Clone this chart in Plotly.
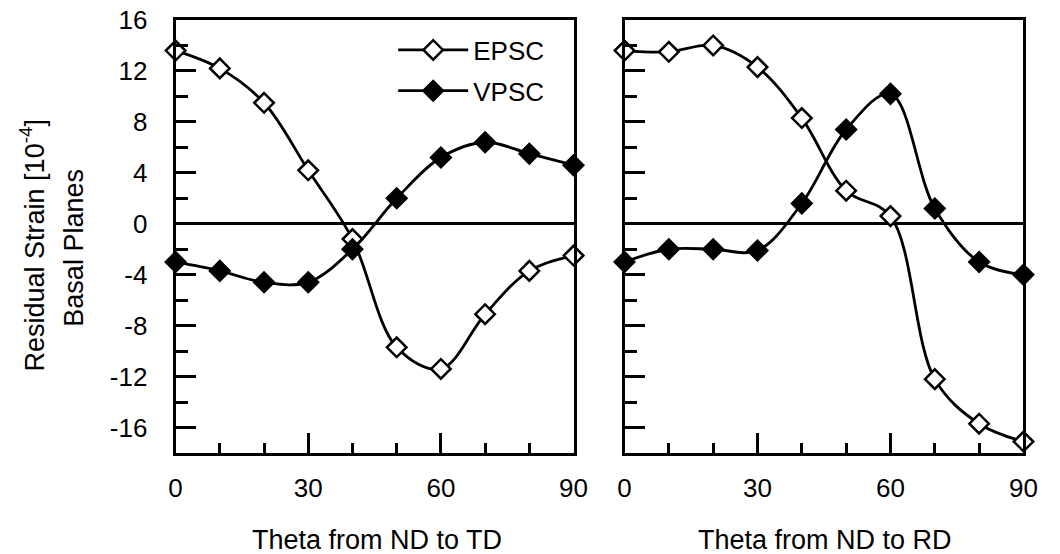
import plotly.graph_objects as go

theta = [0, 10, 20, 30, 40, 50, 60, 70, 80, 90]
epsc_td = [13.6, 12.2, 9.5, 4.2, -1.2, -9.7, -11.4, -7.1, -3.7, -2.5]
vpsc_td = [-3.0, -3.7, -4.6, -4.6, -2.0, 2.0, 5.2, 6.4, 5.5, 4.6]
epsc_rd = [13.6, 13.5, 14.0, 12.3, 8.3, 2.6, 0.6, -12.2, -15.7, -17.1]
vpsc_rd = [-3.0, -2.0, -2.0, -2.1, 1.6, 7.4, 10.2, 1.2, -3.0, -4.0]
ytick_vals = [-16, -12, -8, -4, 0, 4, 8, 12, 16]
ytick_text = ["-16", "-12", "-8", "-4", "0", "4", "8", "12", "16"]
xtick_vals = [0, 30, 60, 90]
xtick_text = ["0", "30", "60", "90"]
xtitles = ["Theta from ND to TD", "Theta from ND to RD"]
ytitle_lines = ["Residual Strain [10<sup>-4</sup>]", "Basal Planes"]

FONT = "Liberation Sans, Arial, sans-serif"
W, H = 1060, 554
top, bottom = 20, 453
FS = 26

fig = go.Figure()

def add(x, y, name, filled, xa, ya, show):
    fig.add_trace(go.Scatter(
        x=x, y=y, name=name, mode="lines+markers",
        line=dict(color="black", width=2.8, shape="spline", smoothing=1.0),
        marker=dict(symbol="diamond", size=15,
                    color="black" if filled else "white",
                    line=dict(color="black", width=2.5)),
        xaxis=xa, yaxis=ya, showlegend=show, cliponaxis=False,
        legendgroup=name))

add(theta, epsc_td, "EPSC", False, "x", "y", True)
add(theta, vpsc_td, "VPSC", True, "x", "y", True)
add(theta, epsc_rd, "EPSC", False, "x2", "y2", False)
add(theta, vpsc_rd, "VPSC", True, "x2", "y2", False)

common_x = dict(range=[0, 90], showline=True, linecolor="black", linewidth=3,
                mirror=True, ticks="inside", ticklen=20, tickwidth=3, tickcolor="black",
                tickvals=xtick_vals, ticktext=xtick_text, showgrid=False, zeroline=False,
                tickfont=dict(family=FONT, size=FS, color="black"),
                ticklabelstandoff=10,
                minor=dict(dtick=10, tick0=0, ticks="inside", ticklen=10, tickwidth=3,
                           tickcolor="black", showgrid=False))
common_y = dict(range=[-18, 16], showline=True, linecolor="black", linewidth=3,
                mirror=True, ticks="inside", ticklen=20, tickwidth=3, tickcolor="black",
                tickvals=ytick_vals, ticktext=ytick_text, showgrid=False,
                zeroline=True, zerolinecolor="black", zerolinewidth=2.5,
                tickfont=dict(family=FONT, size=FS, color="black"),
                ticklabelstandoff=20,
                minor=dict(dtick=2, tick0=0, ticks="inside", ticklen=12, tickwidth=3,
                           tickcolor="black", showgrid=False))

fig.update_layout(
    width=W, height=H,
    margin=dict(l=0, r=0, t=top, b=H - bottom),
    paper_bgcolor="white", plot_bgcolor="white",
    font=dict(family=FONT, size=FS, color="black"),
    xaxis=dict(domain=[172 / W, 578 / W], anchor="y", **common_x),
    xaxis2=dict(domain=[630 / W, 1037 / W], anchor="y2", **common_x),
    yaxis=dict(domain=[0, 1], anchor="x", **common_y),
    yaxis2=dict(domain=[0, 1], anchor="x2", showticklabels=False, **common_y),
    legend=dict(x=394 / W, y=0.985, xanchor="left", yanchor="top",
                bgcolor="rgba(0,0,0,0)", font=dict(family=FONT, size=FS, color="black"),
                tracegroupgap=4, itemwidth=70),
    showlegend=True,
)

ph = bottom - top
def py(pix):
    return (bottom - pix) / ph

fig.add_annotation(x=377 / W, y=py(540), xref="paper", yref="paper",
                   text=xtitles[0], showarrow=False, xanchor="center", yanchor="middle",
                   font=dict(family=FONT, size=FS + 1, color="black"))
fig.add_annotation(x=835 / W, y=py(540), xref="paper", yref="paper",
                   text=xtitles[1], showarrow=False, xanchor="center", yanchor="middle",
                   font=dict(family=FONT, size=FS + 1, color="black"))
fig.add_annotation(x=26 / W, y=py(245), xref="paper", yref="paper",
                   text=ytitle_lines[0],
                   textangle=-90, showarrow=False, xanchor="center", yanchor="middle",
                   font=dict(family=FONT, size=FS + 1, color="black"))
fig.add_annotation(x=68 / W, y=py(248), xref="paper", yref="paper",
                   text=ytitle_lines[1],
                   textangle=-90, showarrow=False, xanchor="center", yanchor="middle",
                   font=dict(family=FONT, size=FS + 1, color="black"))

fig.write_html("out.html")
